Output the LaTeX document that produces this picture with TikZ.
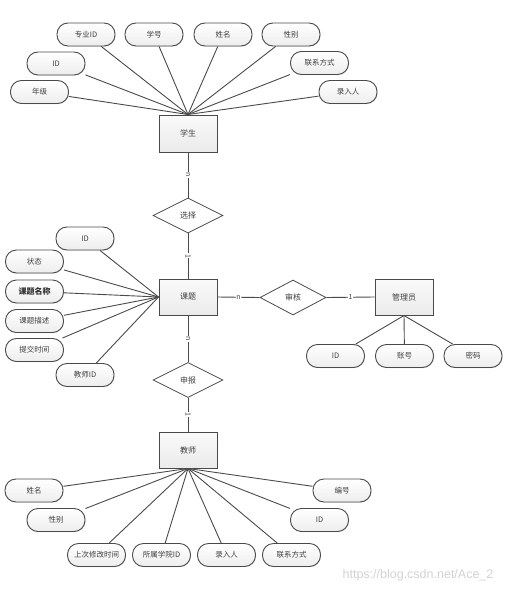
\documentclass[tikz,border=0pt]{standalone}
\usepackage{fontspec}
\setmainfont{Noto Sans CJK SC}
\newfontfamily\wmfont{Liberation Sans}
\usetikzlibrary{shapes.geometric,shadows}
\definecolor{edge}{HTML}{4A4A4A}
\definecolor{txt}{HTML}{404040}
\tikzset{
  attr/.style={draw=edge, line width=0.9pt, rounded corners=11pt, minimum width=58pt, minimum height=23pt,
    top color=white, bottom color=gray!14, text=txt, font=\fontsize{7.5}{8}\selectfont, inner sep=1pt,
    drop shadow={shadow xshift=0.6pt, shadow yshift=-0.6pt, opacity=0.25}},
  ent/.style={draw=edge, line width=1pt, minimum width=58pt, minimum height=37pt,
    top color=gray!4, bottom color=gray!16, text=txt, font=\fontsize{8}{9}\selectfont,
    drop shadow={shadow xshift=0.8pt, shadow yshift=-0.8pt, opacity=0.25}},
  rel/.style={diamond, draw=edge, line width=0.8pt, minimum width=70pt, minimum height=35pt, aspect=2,
    fill=white, text=txt, font=\fontsize{8}{9}\selectfont, inner sep=0pt},
  conn/.style={draw=edge, line width=0.9pt},
  card/.style={fill=white, inner sep=0.6pt, text=txt, font=\fontsize{7}{7}\selectfont},
}
\begin{document}
\begin{tikzpicture}[x=1pt,y=-1pt]
\useasboundingbox (0,0) rectangle (522,594);

% entities
\node[ent] (s) at (188,133.5) {学生};
\node[ent, minimum height=36pt] (t) at (188,297) {课题};
\node[ent, minimum height=36pt] (m) at (404,297) {管理员};
\node[ent, minimum height=36pt] (te) at (188,450) {教师};

% relations
\node[rel] (sel) at (188,215.5) {选择};
\node[rel] (sb) at (188,380) {申报};
\node[rel, minimum width=66pt] (sh) at (293,297.5) {审核};

% student attributes
\node[attr] (s1) at (86,34.5) {专业ID};
\node[attr] (s2) at (154,34.5) {学号};
\node[attr] (s3) at (223,34.5) {姓名};
\node[attr] (s4) at (291,34.5) {性别};
\node[attr] (s5) at (56,63.5) {ID};
\node[attr] (s6) at (319.5,63) {联系方式};
\node[attr] (s7) at (39.5,92) {年级};
\node[attr] (s8) at (348,92) {录入人};
\foreach \a in {s1,s2,s3,s4,s5,s6,s7,s8} \draw[conn] (\a) -- (s.north);

% subject attributes
\node[attr] (t1) at (85,238.5) {ID};
\node[attr] (t2) at (34.5,261.5) {状态};
\node[attr, font=\fontsize{8}{9}\selectfont\bfseries, text=black!80] (t3) at (34.5,291.5) {课题名称};
\node[attr] (t4) at (34.5,321) {课题描述};
\node[attr] (t5) at (34.5,350) {提交时间};
\node[attr] (t6) at (85,375) {教师ID};
\foreach \a in {t1,t2,t3,t4,t5,t6} \draw[conn] (\a) -- (t.west);

% manager attributes
\node[attr] (m1) at (335.5,356) {ID};
\node[attr] (m2) at (404.5,356) {账号};
\node[attr] (m3) at (473,356) {密码};
\foreach \a in {m1,m2,m3} \draw[conn] (m.south) -- (\a);

% teacher attributes
\node[attr] (e1) at (34,490.5) {姓名};
\node[attr] (e2) at (56,520) {性别};
\node[attr] (e3) at (96.5,555) {上次修改时间};
\node[attr] (e4) at (161.5,555) {所属学院ID};
\node[attr] (e5) at (226.5,555) {录入人};
\node[attr] (e6) at (291.5,555) {联系方式};
\node[attr] (e7) at (342,490.5) {编号};
\node[attr] (e8) at (319.5,520) {ID};
\foreach \a in {e1,e2,e3,e4,e5,e6,e7,e8} \draw[conn] (te.south) -- (\a);

% relationship connectors with cardinalities
\draw[conn] (s.south) -- node[card, rotate=-90] {n} (sel.north);
\draw[conn] (sel.south) -- node[card, rotate=-90] {1} (t.north);
\draw[conn] (t.south) -- node[card, rotate=-90] {n} (sb.north);
\draw[conn] (sb.south) -- node[card, rotate=-90] {1} (te.north);
\draw[conn] (t.east) -- node[card] {n} (sh.west);
\draw[conn] (sh.east) -- node[card] {1} (m.west);

% watermark
\node[text=gray!35, font=\wmfont\fontsize{12.5}{13}\selectfont] (wm) at (418,575) {https://blog.csdn.net/Ace\_2};
\end{tikzpicture}
\end{document}
